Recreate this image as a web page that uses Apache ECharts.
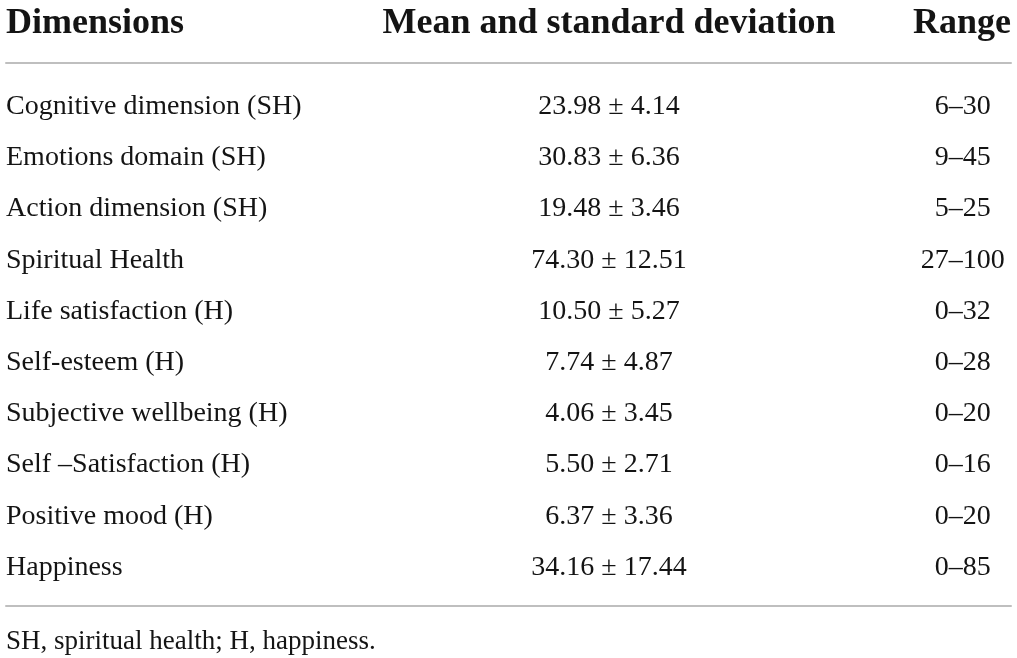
<!DOCTYPE html>
<html>
<head>
    <meta charset="utf-8" />
    <script src="https://cdn.jsdelivr.net/npm/echarts@6/dist/echarts.min.js"></script>
    <style>
        html, body { margin: 0; padding: 0; background: #fff; }
    </style>
</head>
<body>
    <div id="main" style="width: 1017px;height: 658px;"></div>

    <script type="text/javascript">
        // table content
        var headers = ['Dimensions', 'Mean and standard deviation', 'Range'];
        var dimensions = [
            'Cognitive dimension (SH)',
            'Emotions domain (SH)',
            'Action dimension (SH)',
            'Spiritual Health',
            'Life satisfaction (H)',
            'Self-esteem (H)',
            'Subjective wellbeing (H)',
            'Self \u2013Satisfaction (H)',
            'Positive mood (H)',
            'Happiness'
        ];
        var means = [23.98, 30.83, 19.48, 74.30, 10.50, 7.74, 4.06, 5.50, 6.37, 34.16];
        var sds = [4.14, 6.36, 3.46, 12.51, 5.27, 4.87, 3.45, 2.71, 3.36, 17.44];
        var rangeMin = [6, 9, 5, 27, 0, 0, 0, 0, 0, 0];
        var rangeMax = [30, 45, 25, 100, 32, 28, 20, 16, 20, 85];
        var footnote = 'SH, spiritual health; H, happiness.';

        // layout (column centres as a fraction of the table width)
        var colMean = 0.6;
        var colRange = 0.952;
        var serif = '"Liberation Serif", "Times New Roman", serif';
        var ink = '#141414';
        var rule = '#bfbfbf';

        var chartDom = document.getElementById('main');
        var myChart = echarts.init(chartDom);
        var option;

        function cellSeries(x, fmt) {
            return {
                type: 'scatter',
                silent: true,
                symbolSize: 0,
                itemStyle: { opacity: 1, color: ink },
                data: dimensions.map(function (d) { return [x, d]; }),
                label: {
                    show: true,
                    position: 'inside',
                    align: 'center',
                    verticalAlign: 'middle',
                    color: ink,
                    opacity: 1,
                    textBorderWidth: 0,
                    textBorderColor: 'transparent',
                    fontFamily: serif,
                    fontSize: 28,
                    formatter: function (p) { return fmt(p.dataIndex); }
                },
                emphasis: { disabled: true }
            };
        }

        option = {
            animation: false,
            backgroundColor: '#fff',
            title: [
                {
                    text: headers[0], left: 6, top: 6, padding: 0,
                    textStyle: { fontFamily: serif, fontSize: 36, fontWeight: 'bold', color: ink }
                },
                {
                    text: headers[1], left: 609, top: 6, padding: 0, textAlign: 'center',
                    textStyle: { fontFamily: serif, fontSize: 36, fontWeight: 'bold', color: ink }
                },
                {
                    text: headers[2], left: 962, top: 6, padding: 0, textAlign: 'center',
                    textStyle: { fontFamily: serif, fontSize: 36, fontWeight: 'bold', color: ink }
                },
                {
                    text: footnote, left: 6, top: 628, padding: 0,
                    textStyle: { fontFamily: serif, fontSize: 27, fontWeight: 'normal', color: ink }
                }
            ],
            grid: { left: 6, right: 6, top: 81, bottom: 65 },
            xAxis: [
                {
                    type: 'value', min: 0, max: 1, position: 'top', offset: 18,
                    axisLine: { show: true, lineStyle: { color: rule, width: 2 } },
                    axisTick: { show: false }, axisLabel: { show: false }, splitLine: { show: false }
                },
                {
                    type: 'value', min: 0, max: 1, position: 'bottom', offset: 13,
                    axisLine: { show: true, lineStyle: { color: rule, width: 2 } },
                    axisTick: { show: false }, axisLabel: { show: false }, splitLine: { show: false }
                }
            ],
            yAxis: {
                type: 'category',
                inverse: true,
                data: dimensions,
                axisLine: { show: false },
                axisTick: { show: false },
                splitLine: { show: false },
                axisLabel: {
                    inside: true,
                    margin: 0,
                    color: ink,
                    fontFamily: serif,
                    fontSize: 28
                }
            },
            series: [
                cellSeries(colMean, function (i) {
                    return means[i].toFixed(2) + ' \u00b1 ' + sds[i].toFixed(2);
                }),
                cellSeries(colRange, function (i) {
                    return rangeMin[i] + '\u2013' + rangeMax[i];
                })
            ]
        };

        option && myChart.setOption(option);
    </script>
</body>
</html>
